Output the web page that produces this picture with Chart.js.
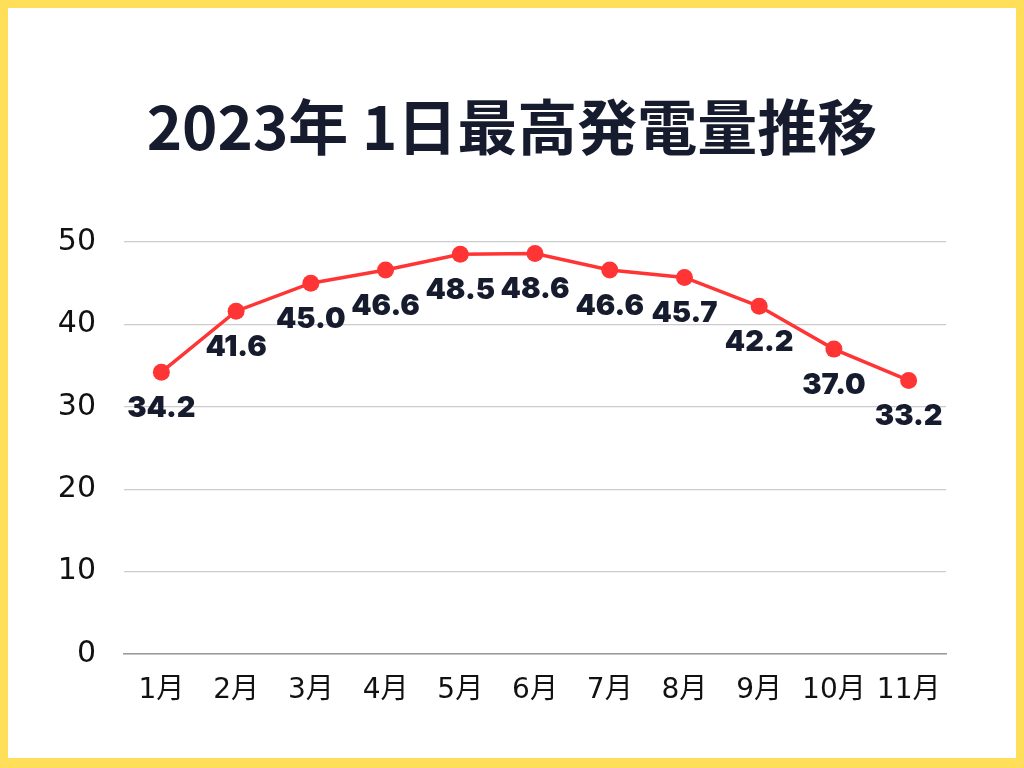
<!DOCTYPE html>
<html>
<head>
<meta charset="utf-8">
<script src="https://cdn.jsdelivr.net/npm/chart.js@4/dist/chart.umd.min.js"></script>
<style>
  html, body { margin: 0; padding: 0; }
  body { width: 1024px; height: 768px; background: #ffde59; position: relative; overflow: hidden; }
  #box { position: absolute; left: 8px; top: 8px; width: 1008px; height: 750px; background: #fff; }
  #title { position: absolute; left: 0; top: 94px; width: 1024px; text-align: center;
           font-family: "Noto Sans CJK JP", sans-serif; font-weight: bold; font-size: 60px;
           line-height: 60px; color: #161c2e; white-space: nowrap; }
  canvas { position: absolute; left: 0; top: 0; }
</style>
</head>
<body>
<div id="box"><canvas id="myChart" width="1008" height="750"></canvas></div>
<div id="title"></div>
<script>
var months = ['1月', '2月', '3月', '4月', '5月', '6月', '7月', '8月', '9月', '10月', '11月'];
var peak = [34.2, 41.6, 45.0, 46.6, 48.5, 48.6, 46.6, 45.7, 42.2, 37.0, 33.2];
var titleText = '2023年 1日最高発電量推移';

document.getElementById('title').textContent = titleText;

// values written under each point
var valueLabels = {
    id: 'valueLabels',
    afterDatasetsDraw: function(chart) {
        var ctx = chart.ctx;
        var meta = chart.getDatasetMeta(0);
        ctx.save();
        ctx.font = '900 29px Inter, "Noto Sans", sans-serif';
        ctx.fillStyle = '#161c2e';
        ctx.textAlign = 'center';
        ctx.textBaseline = 'middle';
        meta.data.forEach(function(pt, i) {
            ctx.fillText(peak[i].toFixed(1), pt.x, pt.y + 36);
        });
        ctx.restore();
    }
};

var ctx = document.getElementById('myChart');
var myChart = new Chart(ctx, {
    type: 'line',
    data: {
        labels: months,
        datasets: [{
            data: peak,
            borderColor: '#ff3535',
            backgroundColor: '#ff3535',
            borderWidth: 3.5,
            pointRadius: 8.5,
            pointHoverRadius: 8.5,
            pointBackgroundColor: '#ff3535',
            pointBorderWidth: 0,
            tension: 0
        }]
    },
    options: {
        responsive: false,
        animation: false,
        layout: { padding: { left: 0, right: 70, top: 234, bottom: 0 } },
        plugins: {
            legend: { display: false },
            tooltip: { enabled: false },
            title: { display: false }
        },
        scales: {
            x: {
                offset: true,
                grid: { display: false, drawTicks: false },
                border: { display: true, color: '#9a9a9a', width: 1.5 },
                ticks: {
                    color: '#111',
                    padding: 20,
                    font: { family: '"DejaVu Sans", "Noto Sans CJK JP", sans-serif', size: 28 }
                },
                afterFit: function(s) { s.height = 104; }
            },
            y: {
                min: 0,
                max: 50,
                ticks: {
                    stepSize: 10,
                    color: '#111',
                    padding: 28,
                    font: { family: '"DejaVu Sans", sans-serif', size: 30 }
                },
                grid: { color: '#cccccc', lineWidth: 1.2, drawTicks: false },
                border: { display: false },
                afterFit: function(s) { s.width = 116; }
            }
        }
    },
    plugins: [valueLabels]
});
</script>
</body>
</html>
